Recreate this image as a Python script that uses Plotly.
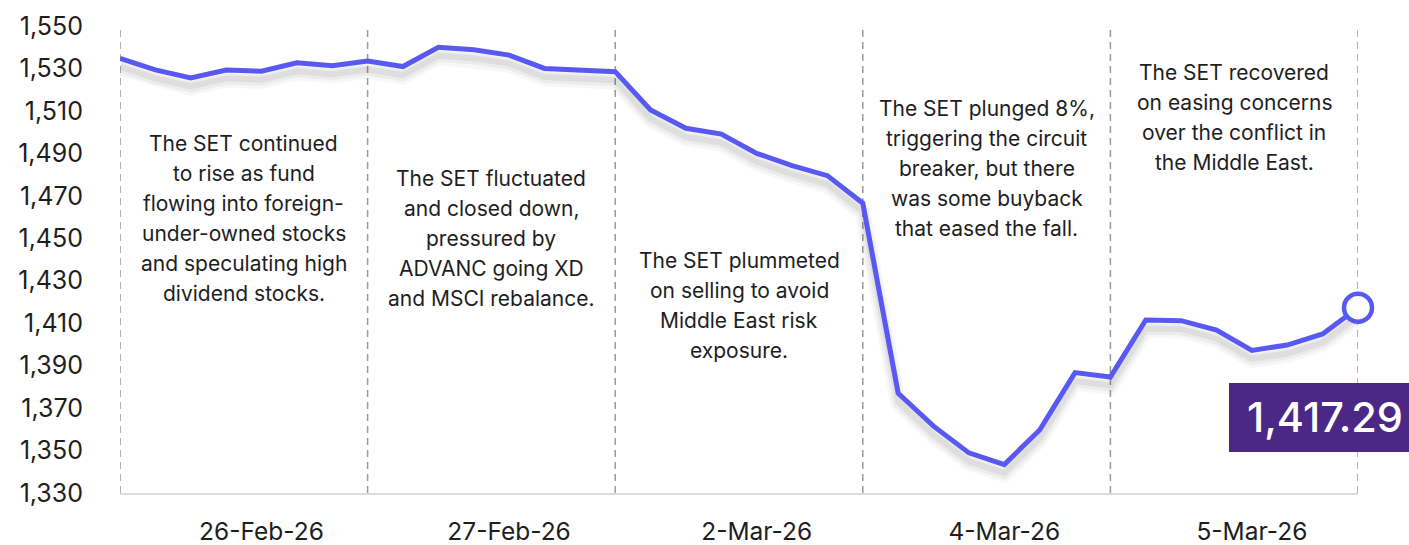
import plotly.graph_objects as go

# ---- data ----
set_index = [1534.8, 1529.3, 1525.5, 1529.3, 1528.7, 1532.7, 1531.3, 1533.5, 1530.9, 1540.0,
             1538.8, 1536.3, 1530.0, 1529.3, 1528.5, 1510.4, 1501.8, 1499.1, 1490.0, 1484.2,
             1479.5, 1466.5, 1377.0, 1361.5, 1348.9, 1343.4, 1359.7, 1386.7, 1384.6, 1411.5,
             1411.2, 1406.8, 1397.2, 1399.7, 1404.9, 1417.29]
day_labels = ["26-Feb-26", "27-Feb-26", "2-Mar-26", "4-Mar-26", "5-Mar-26"]
points_per_day = 7
label_offset = 4
notes = [
    "The SET continued<br>to rise as fund<br>flowing into foreign-<br>under-owned stocks<br>and speculating high<br>dividend stocks.",
    "The SET fluctuated<br>and closed down,<br>pressured by<br>ADVANC going XD<br>and MSCI rebalance.",
    "The SET plummeted<br>on selling to avoid<br>Middle East risk<br>exposure.",
    "The SET plunged 8%,<br>triggering the circuit<br>breaker, but there<br>was some buyback<br>that eased the fall.",
    "The SET recovered<br>on easing concerns<br>over the conflict in<br>the Middle East.",
]
note_y = [1459.5, 1449.7, 1418.1, 1483.1, 1506.9]
y_ticks = list(range(1330, 1551, 20))

x = list(range(len(set_index)))
LINE = "#5858F2"
FONT = "Inter"
LINE_GAP = 30

fig = go.Figure()
# soft shadow under the line
for dy, w, a in [(4.6, 16, 0.03), (4.3, 11, 0.045), (4.0, 6, 0.06)]:
    fig.add_trace(go.Scatter(x=x, y=[v - dy for v in set_index], mode="lines",
                             line=dict(color=f"rgba(0,0,0,{a})", width=w),
                             hoverinfo="skip", showlegend=False))
fig.add_trace(go.Scatter(x=x, y=set_index, mode="lines",
                         line=dict(color=LINE, width=5), showlegend=False))
fig.add_trace(go.Scatter(x=[x[-1]], y=[set_index[-1]], mode="markers",
                         marker=dict(size=28, color="white", line=dict(color=LINE, width=4.5)),
                         cliponaxis=False, showlegend=False))

# day boundaries
for d in range(len(day_labels) + 1):
    fig.add_shape(type="line", xref="x", yref="paper", x0=d * points_per_day, x1=d * points_per_day,
                  y0=0, y1=1, line=dict(color="#9a9a9a", width=1.5, dash="7px,5px"), layer="below")

# notes (one annotation per line for exact line spacing)
for d, (t, ny) in enumerate(zip(notes, note_y)):
    lines = t.split("<br>")
    mid = (len(lines) - 1) / 2
    for i, ln in enumerate(lines):
        fig.add_annotation(x=d * points_per_day + points_per_day / 2, y=ny, xref="x", yref="y",
                           yshift=(mid - i) * LINE_GAP,
                           text=ln, showarrow=False, align="center",
                           font=dict(family=FONT, size=21, color="#1e1e1e"))

# value label box
fig.add_shape(type="rect", xref="paper", yref="paper", x0=0.8958, x1=1.06, y0=0.0878, y1=0.2355,
              fillcolor="#4B2886", line=dict(width=0), layer="above")
fig.add_annotation(xref="paper", yref="paper", x=0.9088, y=0.163, xanchor="left", yanchor="middle",
                   text=f"{set_index[-1]:,.2f}", showarrow=False,
                   font=dict(family=FONT, size=41.5, color="white", weight=500))

fig.update_layout(
    width=1409, height=545,
    margin=dict(l=120, r=51, t=26, b=52),
    paper_bgcolor="white", plot_bgcolor="white",
    font=dict(family=FONT, color="#1e1e1e"),
    xaxis=dict(range=[0, len(set_index) - 1], showgrid=False, zeroline=False, automargin=False,
               tickvals=[d * points_per_day + label_offset for d in range(len(day_labels))],
               ticktext=day_labels, ticks="", tickfont=dict(size=24.5, family=FONT),
               ticklabelstandoff=16, showline=True, linecolor="#dcdcdc", linewidth=2),
    yaxis=dict(range=[1330, 1550], showgrid=False, zeroline=False, showline=False, automargin=False,
               tickvals=y_ticks, ticktext=[f"{v:,}" for v in y_ticks], ticks="",
               tickfont=dict(size=25, family=FONT), ticklabelstandoff=36),
)

fig.write_html("out.html", config={"displayModeBar": False},
               post_script="document.body.style.margin='0';document.body.style.overflow='hidden';")
